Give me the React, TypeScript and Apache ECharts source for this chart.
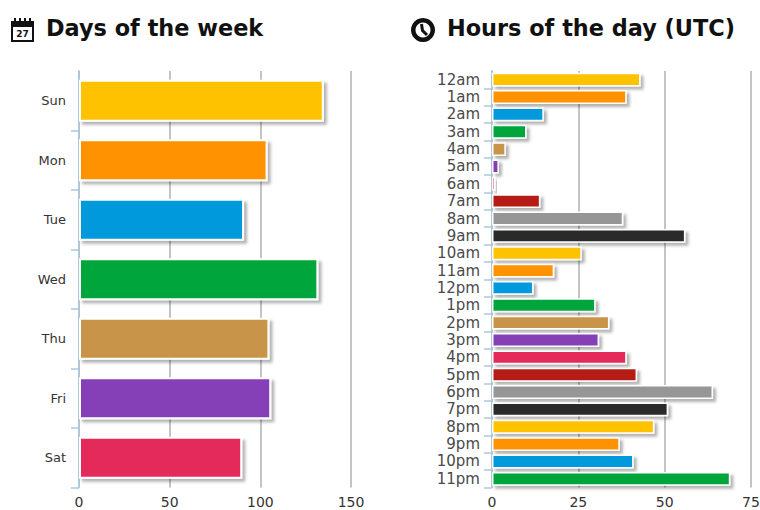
import React, { useEffect, useRef } from "react";
import * as echarts from "echarts";

const days = ["Sun", "Mon", "Tue", "Wed", "Thu", "Fri", "Sat"];
const dayValues = [135, 104, 91, 132, 105, 106, 90];
const hours = ["12am", "1am", "2am", "3am", "4am", "5am", "6am", "7am", "8am", "9am", "10am", "11am", "12pm", "1pm", "2pm", "3pm", "4pm", "5pm", "6pm", "7pm", "8pm", "9pm", "10pm", "11pm"];
const hourValues = [43, 39, 15, 10, 4, 2, 1, 14, 38, 56, 26, 18, 12, 30, 34, 31, 39, 42, 64, 51, 47, 37, 41, 69];
const palette = ["#ffc200", "#ff9200", "#0099dc", "#00a63a", "#c8944a", "#8540b8", "#e42a5a", "#b51f16", "#969696", "#2a2a2a"];

const FONT = "'DejaVu Sans'";
const TICK = "#a9c8de";
const GRIDLINE = "#b0b0b0";

const barData = (vals: number[]) =>
  vals.map((value, i) => ({ value, itemStyle: { color: palette[i % palette.length] } }));

const barStyle = (borderWidth: number) => ({
  borderColor: "#fff",
  borderWidth,
  shadowBlur: 3,
  shadowOffsetX: 3,
  shadowOffsetY: 3,
  shadowColor: "rgba(0,0,0,0.3)",
});

export default function App() {
  const ref = useRef<HTMLDivElement>(null);
  useEffect(() => {
    const chart = echarts.init(ref.current!, undefined, { renderer: "svg" });
    const catAxis = (gridIndex: number, data: string[], size: number, margin: number, color: string) => ({
      type: "category" as const,
      gridIndex,
      data,
      inverse: true,
      axisLine: { lineStyle: { color: TICK, width: 1.5 } },
      axisTick: { show: true, length: 8, lineStyle: { color: TICK, width: 1.5 } },
      axisLabel: { fontFamily: FONT, fontSize: size, color, margin, interval: 0, padding: [3, 0, 0, 0] },
      splitLine: { show: false },
    });
    const valAxis = (gridIndex: number, max: number, interval: number) => ({
      type: "value" as const,
      gridIndex,
      min: 0,
      max,
      interval,
      axisLine: { show: false },
      axisTick: { show: false },
      axisLabel: { fontFamily: FONT, fontSize: 14, color: "#333", margin: 7 },
      splitLine: { lineStyle: { color: GRIDLINE, width: 1.5 } },
    });
    chart.setOption({
      animation: false,
      backgroundColor: "#fff",
      grid: [
        { left: 79, right: 409, top: 71, bottom: 22.5, outerBoundsMode: "none" },
        { left: 492, right: 9, top: 71, bottom: 22.5, outerBoundsMode: "none" },
      ],
      xAxis: [valAxis(0, 150, 50), valAxis(1, 75, 25)],
      yAxis: [catAxis(0, days, 13, 13, "#333"), catAxis(1, hours, 15, 12, "#4a4a4a")],
      series: [
        { type: "bar", xAxisIndex: 0, yAxisIndex: 0, data: barData(dayValues), barCategoryGap: "29%", itemStyle: barStyle(2) },
        { type: "bar", xAxisIndex: 1, yAxisIndex: 1, data: barData(hourValues), barCategoryGap: "20%", itemStyle: barStyle(1.5) },
      ],
      graphic: [
        { type: "text", left: 46, top: 17, style: { text: "Days of the week", font: `bold 22.4px ${FONT}`, fill: "#111" } },
        { type: "text", left: 447, top: 17, style: { text: "Hours of the day (UTC)", font: `bold 22.4px ${FONT}`, fill: "#111" } },
        // cover the topmost axis tick, which the reference does not have
        { type: "rect", z: 50, shape: { x: 69, y: 68, width: 9, height: 5 }, style: { fill: "#fff" } },
        { type: "rect", z: 50, shape: { x: 482, y: 68, width: 9, height: 5 }, style: { fill: "#fff" } },
        // calendar icon
        { type: "rect", shape: { x: 11, y: 21, width: 23, height: 21 }, style: { fill: "#111" } },
        { type: "rect", shape: { x: 13, y: 27, width: 19, height: 13 }, style: { fill: "#fff" } },
        { type: "rect", shape: { x: 14, y: 18, width: 2, height: 5 }, style: { fill: "#111" } },
        { type: "rect", shape: { x: 19, y: 18, width: 2, height: 5 }, style: { fill: "#111" } },
        { type: "rect", shape: { x: 24, y: 18, width: 2, height: 5 }, style: { fill: "#111" } },
        { type: "rect", shape: { x: 29, y: 18, width: 2, height: 5 }, style: { fill: "#111" } },
        { type: "text", x: 22.5, y: 34, style: { text: "27", font: `bold 9px ${FONT}`, fill: "#111", align: "center", verticalAlign: "middle" } },
        // clock icon
        { type: "ring", shape: { cx: 423, cy: 30, r: 12, r0: 7.5 }, style: { fill: "#111" } },
        { type: "polyline", shape: { points: [[421.5, 24], [422.5, 30.5], [427, 35]] }, style: { stroke: "#111", lineWidth: 3, fill: "none" } },
      ],
    });
    return () => chart.dispose();
  }, []);
  return <div ref={ref} style={{ position: "fixed", left: 0, top: 0, width: 760, height: 510 }} />;
}
